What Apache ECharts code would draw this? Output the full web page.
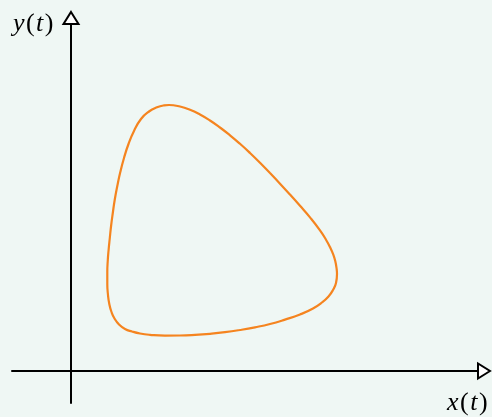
<!DOCTYPE html>
<html>
<head>
<meta charset="utf-8">
<script src="https://cdn.jsdelivr.net/npm/echarts@6/dist/echarts.min.js"></script>
<style>
  html, body { margin: 0; padding: 0; background: #eff7f4; }
  #chart { width: 492px; height: 417px; }
</style>
</head>
<body>
<div id="chart"></div>
<script>
// Closed phase-plane orbit (x(t), y(t)), traced counter-clockwise.
const orbitX = [19.90, 18.90, 17.90, 16.90, 15.90, 14.90, 13.90, 12.90, 11.90, 10.90,
                9.80, 9.30, 8.60, 7.80, 7.00, 6.30, 5.75, 5.30, 4.93, 4.63,
                4.37, 4.18, 4.02, 3.88, 3.76, 3.68, 3.63, 3.63, 3.70, 3.83,
                4.05, 4.35, 4.80, 5.40, 6.10, 6.90, 7.90, 9.40, 10.90, 12.40,
                13.90, 15.40, 16.90, 18.40, 19.90, 21.40, 22.90, 24.20, 25.10, 25.75,
                26.20, 26.50, 26.60, 26.55, 26.43, 26.23, 25.90, 25.50, 24.90, 23.90,
                22.90, 21.90, 20.90, 19.90];
const orbitY = [19.79, 20.82, 21.80, 22.72, 23.57, 24.35, 25.05, 25.65, 26.13, 26.45,
                26.60, 26.56, 26.37, 25.95, 25.20, 24.00, 22.70, 21.30, 19.90, 18.50,
                17.10, 15.80, 14.60, 13.30, 12.10, 11.10, 9.90, 8.70, 7.60, 6.70,
                5.90, 5.25, 4.65, 4.20, 3.95, 3.75, 3.62, 3.54, 3.55, 3.61,
                3.72, 3.88, 4.10, 4.37, 4.70, 5.14, 5.65, 6.25, 6.85, 7.45,
                8.10, 8.80, 9.70, 10.31, 10.97, 11.63, 12.39, 13.13, 14.06, 15.36,
                16.52, 17.64, 18.73, 19.79];

// Axis extents (axes cross at the origin)
const xRange = [-5.9, 41.3];
const yRange = [-3.2, 35.3];

const xName = '{i|x}{p|(}{i|t}{p|)}';
const yName = '{i|y}{p|(}{i|t}{p|)}';

const nameRich = {
  i: { fontFamily: 'Liberation Serif', fontStyle: 'italic', fontSize: 26, color: '#000' },
  p: { fontFamily: 'Liberation Serif', fontSize: 26, color: '#000', padding: [0, 1.5, 0, 1.5] }
};

const chart = echarts.init(document.getElementById('chart'), null, { renderer: 'canvas' });

const axisCommon = {
  type: 'value',
  axisTick: { show: false },
  axisLabel: { show: false },
  splitLine: { show: false },
  axisLine: {
    show: true,
    onZero: true,
    symbol: ['none', 'emptyTriangle'],
    symbolSize: [15, 12],
    lineStyle: { color: '#000', width: 2 }
  }
};

chart.setOption({
  backgroundColor: '#eff7f4',
  animation: false,
  grid: { left: 12, right: 8, top: 18, bottom: 14 },
  xAxis: Object.assign({}, axisCommon, {
    min: xRange[0], max: xRange[1],
    name: xName,
    nameLocation: 'end',
    nameGap: -37,
    nameTextStyle: { align: 'left', verticalAlign: 'middle', padding: [64, 0, 0, 0], rich: nameRich }
  }),
  yAxis: Object.assign({}, axisCommon, {
    min: yRange[0], max: yRange[1],
    name: yName,
    nameLocation: 'end',
    nameGap: -6,
    nameTextStyle: { align: 'right', verticalAlign: 'middle', padding: [0, 16, 0, 0], rich: nameRich }
  }),
  series: [{
    type: 'line',
    data: orbitX.map((x, k) => [x, orbitY[k]]),
    smooth: 0.5,
    symbol: 'none',
    lineStyle: { color: '#f5841f', width: 2.2 }
  }]
});
</script>
</body>
</html>
